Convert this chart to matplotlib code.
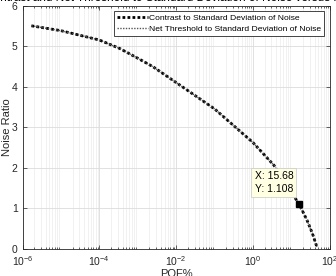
import numpy as np
import matplotlib.pyplot as plt

plt.rcParams['font.family'] = ['Liberation Sans', 'DejaVu Sans']

# values
pof = [1.7e-6, 1e-5, 1e-4, 3.4e-4, 1e-3, 2.5e-3, 1e-2, 1e-1, 1.0, 3.5, 15.68, 25.0, 35.0, 45.7]
contrast = [5.50, 5.38, 5.15, 4.94, 4.70, 4.49, 4.10, 3.45, 2.62, 2.06, 1.108, 0.72, 0.38, 0.05]
threshold = contrast  # drawn on top of each other in the original

tip_x = 15.68
tip_y = 1.108

fig = plt.figure(figsize=(3.36, 2.76), dpi=100)
ax = fig.add_axes([0.067, 0.098, 0.915, 0.882])

ax.plot(pof, contrast, color='black', lw=2.0, ls=(0, (1, 0.8)),
        label='Contrast to Standard Deviation of Noise')
ax.plot(pof, threshold, color='#555555', lw=1.0, ls=(0, (1, 1)),
        label='Net Threshold to Standard Deviation of Noise')

ax.set_xscale('log')
ax.set_xlim(1e-6, 1e2)
ax.set_ylim(0, 6)
ax.set_xticks([1e-6, 1e-4, 1e-2, 1e0, 1e2])
ax.set_yticks(range(0, 7))
ax.tick_params(which='both', direction='in', top=True, right=True,
               labelsize=7.5, colors='#262626', width=0.5)
ax.tick_params(which='major', length=3)
ax.tick_params(which='minor', length=1.5)
ax.grid(which='major', color='#dcdcdc', lw=0.6)
ax.grid(which='minor', axis='x', color='#ececec', lw=0.5)
for s in ax.spines.values():
    s.set_color('#262626')
    s.set_linewidth(0.6)

ax.set_xlabel('POF%', fontsize=8, color='#262626', labelpad=1)
ax.set_ylabel('Noise Ratio', fontsize=8, color='#262626', labelpad=0)
ax.set_title('Contrast and Net Threshold to Standard Deviation of Noise versus POF%',
             fontsize=8.5, pad=3, y=1.0)

ax.plot([tip_x], [tip_y], 's', color='black', ms=5)
ax.annotate('X: %.2f\nY: %.3f' % (tip_x, tip_y), (tip_x, tip_y),
            xytext=(-32, 7), textcoords='offset points', fontsize=7.5,
            va='bottom', ha='left', linespacing=1.4,
            bbox=dict(boxstyle='square,pad=0.3', fc='#ffffe1', ec='#c8c8c8', lw=0.5))

leg = ax.legend(loc='upper right', fontsize=6.1, handlelength=3.6,
                handletextpad=0.15, borderpad=0.35, labelspacing=0.3,
                fancybox=False, framealpha=1, borderaxespad=0.7)
leg.get_frame().set_edgecolor('#262626')
leg.get_frame().set_linewidth(0.6)

fig.savefig('out.png', dpi=100)
